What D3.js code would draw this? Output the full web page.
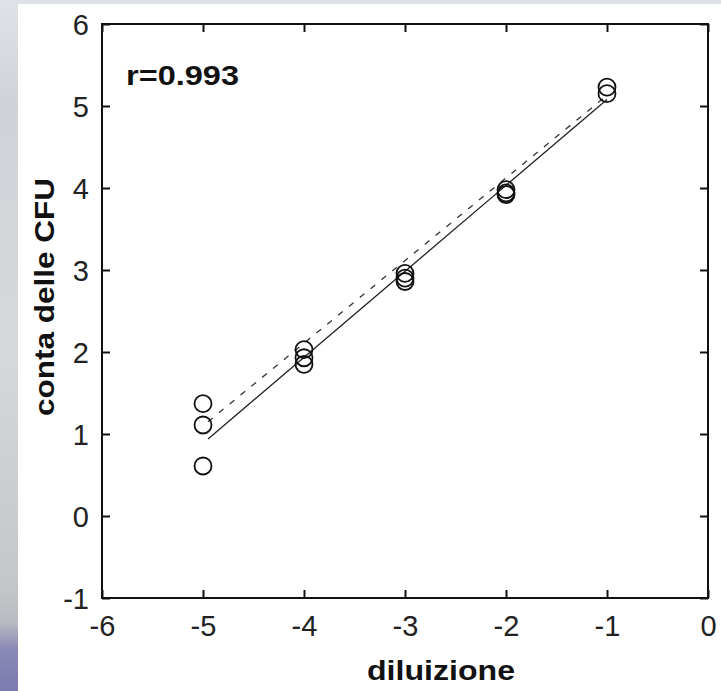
<!DOCTYPE html>
<html><head><meta charset="utf-8">
<script src="https://cdn.jsdelivr.net/npm/d3@7"></script>
<style>html,body{margin:0;padding:0;overflow:hidden;background:#fff}</style>
</head><body>
<svg id="chart" width="721" height="691"></svg>
<script>
// ---- data ----
const xTicks = [-6, -5, -4, -3, -2, -1, 0];
const yTicks = [-1, 0, 1, 2, 3, 4, 5, 6];
const dilution = [-5, -5, -5, -4, -4, -4, -3, -3, -3, -2, -2, -2, -1, -1];
const cfuCount = [1.37, 1.11, 0.61, 2.03, 1.93, 1.85, 2.96, 2.90, 2.86, 3.98, 3.94, 3.92, 5.23, 5.15];
const fitSolidX = [-4.95, -1];
const fitSolidY = [0.94, 5.08];
const fitDashedX = [-4.95, -1];
const fitDashedY = [1.15, 5.13];
const rLabel = "r=0.993";
const xTitle = "diluizione";
const yTitle = "conta delle CFU";

const svg = d3.select("#chart");

// background (photo-like border)
const defs = svg.append("defs");
const g1 = defs.append("linearGradient").attr("id","bg").attr("x1",0).attr("y1",0).attr("x2",0).attr("y2",1);
[[0,"#dfe3e8"],[0.15,"#cfd3d8"],[0.5,"#d6d8da"],[0.85,"#c4c6c8"],[0.9,"#b9bbc2"],[0.94,"#8a88b4"],[1,"#7d7bb0"]]
  .forEach(([o,c])=>g1.append("stop").attr("offset",o).attr("stop-color",c));
svg.append("rect").attr("width",721).attr("height",691).attr("fill","url(#bg)");
svg.append("rect").attr("x",18).attr("y",4).attr("width",703).attr("height",687).attr("fill","#ffffff");

const x = d3.scaleLinear().domain([-6, 0]).range([102, 708]);
const y = d3.scaleLinear().domain([-1, 6]).range([598, 24]);

const font = "'Liberation Sans', Arial, sans-serif";
const fmt = d => String(d);

// axes
const xAxis = svg.append("g").attr("transform", `translate(0,${y(-1)})`)
  .call(d3.axisBottom(x).tickValues(xTicks).tickSizeInner(-8).tickSizeOuter(0).tickPadding(17).tickFormat(fmt));
const xAxisTop = svg.append("g").attr("transform", `translate(0,${y(6)})`)
  .call(d3.axisTop(x).tickValues(xTicks).tickSizeInner(-8).tickSizeOuter(0).tickFormat(""));
const yAxis = svg.append("g").attr("transform", `translate(${x(-6)},0)`)
  .call(d3.axisLeft(y).tickValues(yTicks).tickSizeInner(-8).tickSizeOuter(0).tickPadding(13).tickFormat(fmt));
const yAxisR = svg.append("g").attr("transform", `translate(${x(0)},0)`)
  .call(d3.axisRight(y).tickValues(yTicks).tickSizeInner(-8).tickSizeOuter(0).tickFormat(""));

[xAxis, xAxisTop, yAxis, yAxisR].forEach(a => {
  a.select(".domain").remove();
  a.selectAll(".tick line").attr("stroke", "#111").attr("stroke-width", 2);
  a.selectAll(".tick text").attr("font-family", font).attr("font-size", 29).attr("fill", "#222");
});
xAxis.selectAll(".tick text").attr("dy", "0.71em");
yAxis.selectAll(".tick text").attr("dy", "0.36em");

// box
svg.append("rect").attr("x", x(-6)).attr("y", y(6)).attr("width", x(0) - x(-6)).attr("height", y(-1) - y(6))
  .attr("fill", "none").attr("stroke", "#111").attr("stroke-width", 2);

// fit lines
const line = d3.line().x(d => x(d[0])).y(d => y(d[1]));
svg.append("path").datum(d3.zip(fitSolidX, fitSolidY)).attr("d", line)
  .attr("fill", "none").attr("stroke", "#222").attr("stroke-width", 1.3);
svg.append("path").datum(d3.zip(fitDashedX, fitDashedY)).attr("d", line)
  .attr("fill", "none").attr("stroke", "#333").attr("stroke-width", 1.3).attr("stroke-dasharray", "6,8");

// points
svg.append("g").selectAll("circle").data(d3.zip(dilution, cfuCount)).join("circle")
  .attr("cx", d => x(d[0])).attr("cy", d => y(d[1])).attr("r", 8.5)
  .attr("fill", "none").attr("stroke", "#111").attr("stroke-width", 1.8);

// r label
svg.append("text").attr("x", 126).attr("y", 85).attr("font-family", font).attr("font-weight", "bold")
  .attr("font-size", 27).attr("fill", "#111").attr("textLength", 113).attr("lengthAdjust", "spacingAndGlyphs").text(rLabel);

// axis titles
svg.append("text").attr("x", 441).attr("y", 680).attr("text-anchor", "middle").attr("font-family", font)
  .attr("font-weight", "bold").attr("font-size", 28).attr("fill", "#111")
  .attr("textLength", 148).attr("lengthAdjust", "spacingAndGlyphs").text(xTitle);
svg.append("text").attr("transform", "translate(54,297) rotate(-90)").attr("text-anchor", "middle").attr("font-family", font)
  .attr("font-weight", "bold").attr("font-size", 28).attr("fill", "#111")
  .attr("textLength", 238).attr("lengthAdjust", "spacingAndGlyphs").text(yTitle);
</script>
</body></html>
